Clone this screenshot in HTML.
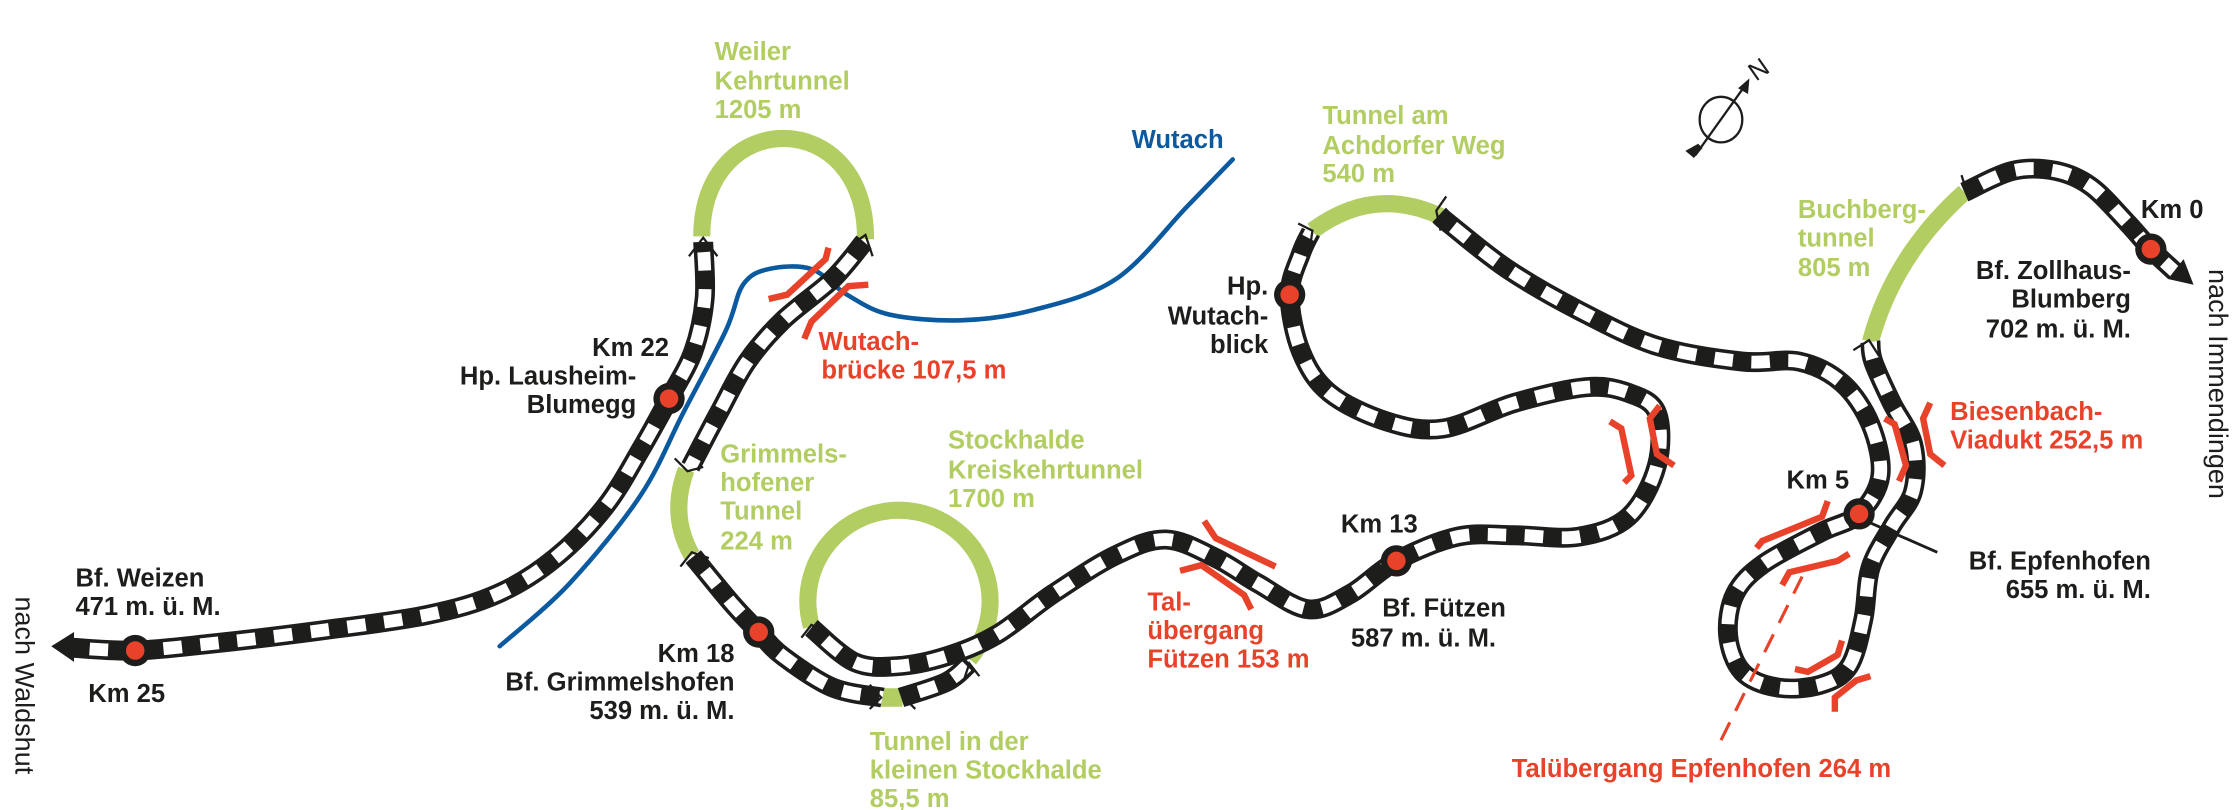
<!DOCTYPE html>
<html><head><meta charset="utf-8"><style>
html,body{margin:0;padding:0;background:#fff;}
svg{display:block;}
text{font-family:"Liberation Sans",sans-serif;font-weight:bold;font-size:18px;}
.g{fill:#b2cd62}.r{fill:#e8432a}.k{fill:#1d1d1b}.b{fill:#0b5aa0}
</style></head><body>
<svg id="s" width="2232" height="810" viewBox="0 0 1568 569" xmlns="http://www.w3.org/2000/svg">
<path id="river" fill="none" stroke="#0b5aa0" stroke-width="3.2" stroke-linecap="round" d=""/>
<g fill="none" stroke="#b2cd62" stroke-width="12">
<path d="M493,166 C493,74 609,74 608,168"/>
<path d="M482,330 Q470,362 486,390"/>
<path d="M619,490 L634,490" stroke-width="13"/>
<path d="M570,440 A64,64 0 1 1 681,463"/>
<path d="M922,162 Q965,130 1012,152"/>
<path d="M1314,240 Q1330,180 1380,135"/>
</g>
<g id="tracks"></g>
<polygon points="36,454 52,444 52,465" fill="#1d1d1b"/>
<polygon points="1541,200 1523,196 1534,182" fill="#1d1d1b"/>
<g fill="none" stroke="#1d1d1b" stroke-width="1.6">
<polyline points="484,180 494,167 504,180"/>
<polyline points="598,172 608,165 613,180"/>
<polyline points="474,322 483,331 494,328"/>
<polyline points="478,398 486,388 498,392"/>
<polyline points="611,498 619,490 611,481"/>
<polyline points="643,498 635,490 643,481"/>
<polyline points="677,478 681,466 688,475"/>
<polyline points="563,448 570,439 582,444"/>
<polyline points="912,157 922,162 920,176"/>
<polyline points="1016,138 1009,148 1012,162"/>
<polyline points="1302,246 1313,239 1320,250"/>
<polyline points="1378,123 1382,136 1394,135"/>
</g>
<g fill="none" stroke="#e8432a" stroke-width="4.5" stroke-linejoin="miter">
<polyline points="582,174 580,182 553,207 540,210"/>
<polyline points="610,200 596,201 570,226 565,238"/>
<polyline points="846,366 854,378 896,398"/>
<polyline points="829,401 844,397 874,418 879,428"/>
<polyline points="1131,296 1139,301 1146,334 1141,339"/>
<polyline points="1166,285 1159,294 1164,319 1176,327"/>
<polyline points="1324,294 1331,298 1339,327 1334,338"/>
<polyline points="1356,283 1351,294 1356,319 1366,327"/>
<polyline points="1284,352 1280,363 1238,380 1234,385"/>
<polyline points="1299,389 1291,394 1257,402 1252,411"/>
<polyline points="1294,450 1291,460 1270,472 1261,470"/>
<polyline points="1314,475 1304,478 1289,490 1289,500"/>
</g>
<line x1="1209" y1="520" x2="1266" y2="405" stroke="#e8432a" stroke-width="2.2" stroke-dasharray="14 9"/>
<line x1="1311" y1="366" x2="1361" y2="388" stroke="#1d1d1b" stroke-width="2"/>
<g id="st"></g>
<g fill="none" stroke="#1d1d1b" stroke-width="1.6">
<ellipse cx="1209" cy="84" rx="15" ry="16"/>
<line x1="1191" y1="109" x2="1226" y2="60"/>
</g>
<polygon points="1229,55 1228,66 1221,62" fill="#1d1d1b"/>
<polygon points="1190,111 1184,106 1193,101 1196,104" fill="#1d1d1b"/>
<text x="1230" y="56" font-size="12" transform="rotate(-35 1234 51)" class="k" style="font-weight:normal">N</text>
<text class="g"><tspan x="502" y="42">Weiler</tspan><tspan x="502" y="63">Kehrtunnel</tspan><tspan x="502" y="83">1205 m</tspan></text>
<text class="b" x="795" y="104">Wutach</text>
<text class="g"><tspan x="929" y="87">Tunnel am</tspan><tspan x="929" y="108">Achdorfer Weg</tspan><tspan x="929" y="128">540 m</tspan></text>
<text class="g"><tspan x="1263" y="153">Buchberg-</tspan><tspan x="1263" y="173">tunnel</tspan><tspan x="1263" y="194">805 m</tspan></text>
<text class="k" x="1504" y="153">Km 0</text>
<text class="k" text-anchor="end"><tspan x="1497" y="196">Bf. Zollhaus-</tspan><tspan x="1497" y="216">Blumberg</tspan><tspan x="1497" y="237">702 m. ü. M.</tspan></text>
<text class="k" transform="translate(1552,189) rotate(90)" x="0" y="0" style="font-weight:normal;font-size:19px">nach Immendingen</text>
<text class="k" transform="translate(11,419) rotate(90)" x="0" y="0" style="font-weight:normal;font-size:19px">nach Waldshut</text>
<text class="k" text-anchor="end" x="470" y="250">Km 22</text>
<text class="k" text-anchor="end"><tspan x="447" y="270">Hp. Lausheim-</tspan><tspan x="447" y="290">Blumegg</tspan></text>
<text class="r"><tspan x="575" y="246">Wutach-</tspan><tspan x="577" y="266">brücke 107,5 m</tspan></text>
<text class="k" text-anchor="end"><tspan x="891" y="207">Hp.</tspan><tspan x="891" y="228">Wutach-</tspan><tspan x="891" y="248">blick</tspan></text>
<text class="g"><tspan x="506" y="325">Grimmels-</tspan><tspan x="506" y="345">hofener</tspan><tspan x="506" y="365">Tunnel</tspan><tspan x="506" y="386">224 m</tspan></text>
<text class="g"><tspan x="666" y="315">Stockhalde</tspan><tspan x="666" y="336">Kreiskehrtunnel</tspan><tspan x="666" y="356">1700 m</tspan></text>
<text class="k"><tspan x="53" y="412">Bf. Weizen</tspan><tspan x="53" y="432">471 m. ü. M.</tspan><tspan x="62" y="493">Km 25</tspan></text>
<text class="k" text-anchor="end"><tspan x="516" y="465">Km 18</tspan><tspan x="516" y="485">Bf. Grimmelshofen</tspan><tspan x="516" y="505">539 m. ü. M.</tspan></text>
<text class="g"><tspan x="611" y="527">Tunnel in der</tspan><tspan x="611" y="547">kleinen Stockhalde</tspan><tspan x="611" y="567">85,5 m</tspan></text>
<text class="r"><tspan x="806" y="429">Tal-</tspan><tspan x="806" y="449">übergang</tspan><tspan x="806" y="469">Fützen 153 m</tspan></text>
<text class="k" x="942" y="374">Km 13</text>
<text class="k"><tspan x="971" y="433">Bf. Fützen</tspan><tspan x="949" y="454">587 m. ü. M.</tspan></text>
<text class="r"><tspan x="1370" y="295">Biesenbach-</tspan><tspan x="1370" y="315">Viadukt 252,5 m</tspan></text>
<text class="k" x="1255" y="343">Km 5</text>
<text class="k" text-anchor="end"><tspan x="1511" y="400">Bf. Epfenhofen</tspan><tspan x="1511" y="420">655 m. ü. M.</tspan></text>
<text class="r" x="1062" y="546">Talübergang Epfenhofen 264 m</text>
</svg>
<script>
function cr(p){var d="M"+p[0][0]+","+p[0][1];for(var i=0;i<p.length-1;i++){var a=p[i-1]||p[i],b=p[i],c=p[i+1],e=p[i+2]||c;
d+=" C"+(b[0]+(c[0]-a[0])/6).toFixed(1)+","+(b[1]+(c[1]-a[1])/6).toFixed(1)+" "+(c[0]-(e[0]-b[0])/6).toFixed(1)+","+(c[1]-(e[1]-b[1])/6).toFixed(1)+" "+c[0]+","+c[1];}return d;}
var NS="http://www.w3.org/2000/svg";
document.getElementById("river").setAttribute("d",cr([[351,454],[400,410],[450,348],[480,290],[510,232],[522,200],[540,189],[570,189],[595,207],[625,221],[675,225],[725,218],[784,196],[834,145],[866,112]]));
var T=[
[[50,455],[95,457],[150,452],[225,443],[300,432],[350,417],[390,392],[425,356],[450,316],[470,280],[487,247],[495,210],[494,170]],
[[607,170],[585,196],[550,225],[525,254],[505,290],[485,328]],
[[487,391],[515,425],[533,444],[550,461],[585,483],[620,490]],
[[633,490],[665,479],[681,466]],
[[570,441],[600,465],[630,468],[665,461],[700,446],[740,417],[784,390],[819,379],[854,392],[884,410],[919,428],[949,417],[981,394],[1024,377],[1064,376],[1109,377],[1144,363],[1164,327],[1164,290],[1144,276],[1114,272],[1064,283],[1014,301],[974,296],[934,276],[914,247],[906,207],[914,178],[921,163]],
[[1011,151],[1019,158],[1059,189],[1109,218],[1164,243],[1224,254],[1264,254],[1294,269],[1314,298],[1321,334],[1306,361],[1279,374],[1239,396],[1219,417],[1214,446],[1224,472],[1249,483],[1279,481],[1299,468],[1309,435],[1314,399],[1329,370],[1344,345],[1344,312],[1329,283],[1316,254],[1314,240]],
[[1380,135],[1414,120],[1444,120],[1469,131],[1494,156],[1511,175],[1528,191]]];
var g=document.getElementById("tracks");
T.forEach(function(p){var d=cr(p);
var a=document.createElementNS(NS,"path");a.setAttribute("d",d);a.setAttribute("fill","none");a.setAttribute("stroke","#1d1d1b");a.setAttribute("stroke-width","14");g.appendChild(a);
var b=document.createElementNS(NS,"path");b.setAttribute("d",d);b.setAttribute("fill","none");b.setAttribute("stroke","#fff");b.setAttribute("stroke-width","9");g.appendChild(b);
var c=document.createElementNS(NS,"path");c.setAttribute("d",d);c.setAttribute("fill","none");c.setAttribute("stroke","#1d1d1b");c.setAttribute("stroke-width","10");c.setAttribute("stroke-dasharray","13 13");g.appendChild(c);});
var S=[[95,457],[470,280],[533,444],[981,394],[906,207],[1306,361],[1511,175]],sg=document.getElementById("st");
S.forEach(function(p){var o=document.createElementNS(NS,"circle");o.setAttribute("cx",p[0]);o.setAttribute("cy",p[1]);o.setAttribute("r","11");o.setAttribute("fill","#1d1d1b");sg.appendChild(o);
var r=document.createElementNS(NS,"circle");r.setAttribute("cx",p[0]);r.setAttribute("cy",p[1]);r.setAttribute("r","6.5");r.setAttribute("fill","#e8432a");sg.appendChild(r);});
</script>
</body></html>
